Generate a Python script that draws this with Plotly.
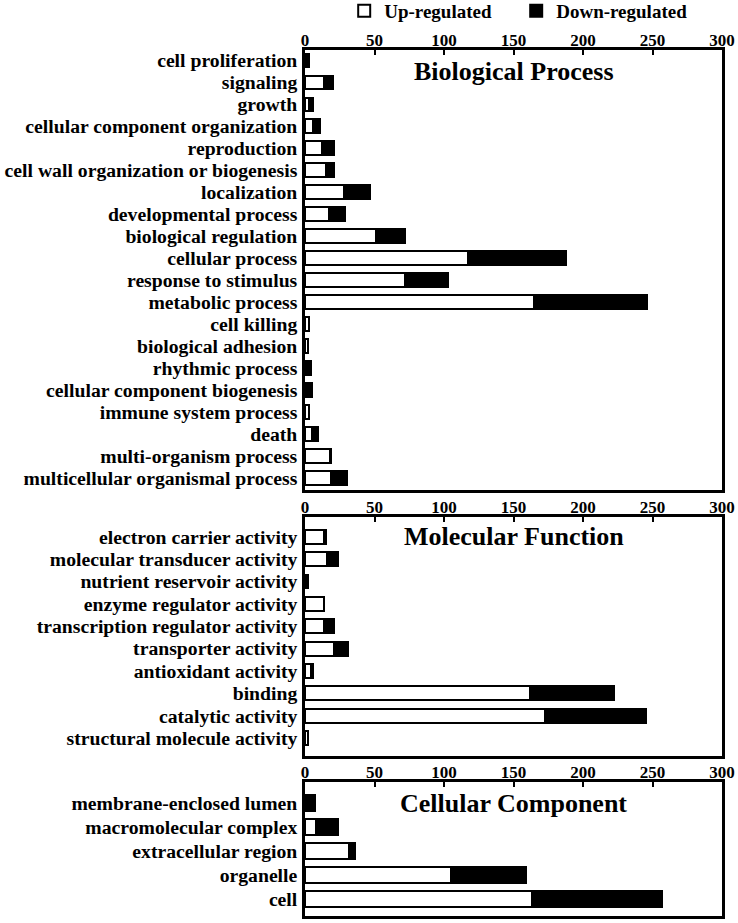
import plotly.graph_objects as go

# ---------------- data ----------------
bp_terms = ["cell proliferation", "signaling", "growth", "cellular component organization",
            "reproduction", "cell wall organization or biogenesis", "localization",
            "developmental process", "biological regulation", "cellular process",
            "response to stimulus", "metabolic process", "cell killing", "biological adhesion",
            "rhythmic process", "cellular component biogenesis", "immune system process",
            "death", "multi-organism process", "multicellular organismal process"]
bp_up = [1, 14, 3, 6, 12, 15, 28, 17, 51, 117, 72, 165, 3, 2, 1, 1, 3, 5, 18, 19]
bp_down = [2, 6, 3, 5, 9, 6, 19, 12, 21, 71, 31, 81, 0, 0, 3, 4, 0, 4, 1, 11]

mf_terms = ["electron carrier activity", "molecular transducer activity",
            "nutrient reservoir activity", "enzyme regulator activity",
            "transcription regulator activity", "transporter activity",
            "antioxidant activity", "binding", "catalytic activity",
            "structural molecule activity"]
mf_up = [14, 16, 0, 14, 14, 21, 4, 162, 173, 2]
mf_down = [1, 8, 2, 0, 7, 10, 2, 60, 72, 0]

cc_terms = ["membrane-enclosed lumen", "macromolecular complex", "extracellular region",
            "organelle", "cell"]
cc_up = [1, 8, 32, 105, 163]
cc_down = [6, 16, 4, 54, 94]

panel_titles = ["Biological Process", "Molecular Function", "Cellular Component"]
x_ticks = [0, 50, 100, 150, 200, 250, 300]
series_names = ["Up-regulated", "Down-regulated"]

# ---------------- figure ----------------
FONT = "Liberation Serif, Times New Roman, serif"
fig = go.Figure()

panels = [
    (bp_terms, bp_up, bp_down, "x", "y", 0.6),
    (mf_terms, mf_up, mf_down, "x2", "y2", 0.62),
    (cc_terms, cc_up, cc_down, "x3", "y3", 0.66),
]
for i, (terms, up, down, xa, ya, w) in enumerate(panels):
    fig.add_trace(go.Bar(y=terms, x=up, orientation="h", name=series_names[0],
                         marker=dict(color="white", line=dict(color="black", width=2)),
                         width=w, xaxis=xa, yaxis=ya, showlegend=(i == 0)))
    fig.add_trace(go.Bar(y=terms, x=down, orientation="h", name=series_names[1],
                         marker=dict(color="black", line=dict(color="black", width=2)),
                         width=w, xaxis=xa, yaxis=ya, showlegend=(i == 0)))

W, H = 738, 923
T, B = 50, 7
plot_h = H - T - B

def dom(top_px, bot_px):
    return [1 - (bot_px - T) / plot_h, 1 - (top_px - T) / plot_h]

doms = [dom(50, 490), dom(517, 756), dom(782, 916)]
ranges = [[19.55, -0.46], [9.8, -0.88], [4.71, -0.89]]
term_lists = [bp_terms, mf_terms, cc_terms]

tick_font = dict(family=FONT, size=17, color="black", weight="bold")
cat_font = dict(family=FONT, size=19.7, color="black", weight="bold")
layout = dict(
    template="none",
    width=W, height=H,
    margin=dict(l=305, r=16, t=T, b=B, autoexpand=False),
    paper_bgcolor="white", plot_bgcolor="white",
    barmode="stack",
    font=dict(family=FONT, size=16, color="black", weight="bold"),
    legend=dict(orientation="h", x=0.094, xanchor="left", y=(916 + 8) / plot_h,
                yanchor="top", bgcolor="rgba(0,0,0,0)",
                font=dict(family=FONT, size=19, color="black", weight="bold"),
                traceorder="normal", entrywidth=127, itemclick=False),
)
for k, (suffix, d, r, terms) in enumerate(zip(["", "2", "3"], doms, ranges, term_lists)):
    layout["xaxis" + suffix] = dict(
        range=[0, 300], tickvals=x_ticks, side="top", anchor="y" + suffix,
        domain=[0, 1], showgrid=False, zeroline=False, automargin=False,
        showline=True, linecolor="black", linewidth=2.5, mirror=True,
        ticks="inside", ticklen=5, tickwidth=2, tickcolor="black",
        ticklabelstandoff=-6,
        tickfont=tick_font, fixedrange=True)
    layout["yaxis" + suffix] = dict(
        type="category", range=r, domain=d, anchor="x" + suffix,
        tickmode="array", tickvals=terms, ticktext=terms,
        showgrid=False, zeroline=False, showline=True, linecolor="black",
        linewidth=2.5, mirror=True, ticks="", ticklabelstandoff=1, automargin=False,
        tickfont=cat_font, fixedrange=True)
fig.update_layout(**layout)

title_y = [0.952, 0.92, 0.843]
for k, (t, ty) in enumerate(zip(panel_titles, title_y)):
    suffix = "" if k == 0 else str(k + 1)
    fig.add_annotation(text=t, x=0.5, y=ty, xref="x" + suffix + " domain",
                       yref="y" + suffix + " domain", showarrow=False,
                       xanchor="center", yanchor="middle",
                       font=dict(family=FONT, size=26, color="black", weight="bold"))

fig.write_html("out.html", config={"displayModeBar": False},
               post_script="document.body.style.margin='0';")
